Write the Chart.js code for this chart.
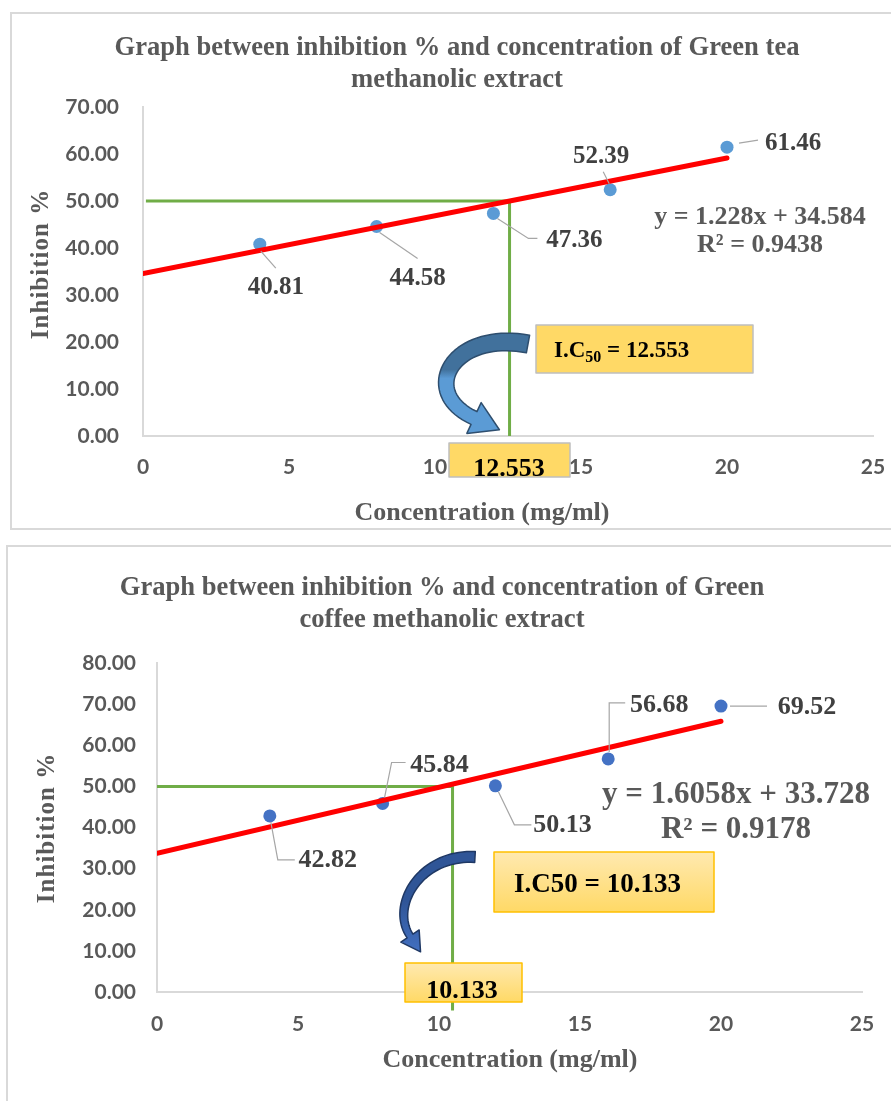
<!DOCTYPE html>
<html>
<head>
<meta charset="utf-8">
<script src="https://cdn.jsdelivr.net/npm/chart.js@4.4.1/dist/chart.umd.min.js"></script>
<style>
    html, body { margin: 0; padding: 0; background: #fff; width: 891px; height: 1101px; overflow: hidden; }
    .frame { position: absolute; border: 2px solid #d9d9d9; box-sizing: border-box; }
    #f1 { left: 10px; top: 12px; width: 920px; height: 518px; }
    #f2 { left: 6px; top: 545px; width: 920px; height: 600px; }
    canvas { position: absolute; }
    #c1 { left: 0; top: 0; }
    #c2 { left: 0; top: 546px; }
</style>
</head>
<body>
<div class="frame" id="f1"></div>
<div class="frame" id="f2"></div>
<canvas id="c1" width="910" height="530"></canvas>
<canvas id="c2" width="885" height="555"></canvas>
<script>
// values
const concentration = [4, 8, 12, 16, 20];
const teaInhibition = [40.81, 44.58, 47.36, 52.39, 61.46];
const coffeeInhibition = [42.82, 45.84, 50.13, 56.68, 69.52];

const xTickValues = [0, 5, 10, 15, 20, 25];
const teaYTicks = [0, 10, 20, 30, 40, 50, 60, 70];
const coffeeYTicks = [0, 10, 20, 30, 40, 50, 60, 70, 80];

// linear trendlines (ends of the red lines)
const trendX = [0, 20];
const teaTrend = [34.58, 59.14];
const coffeeTrend = [33.73, 65.84];

// green IC50 guide lines
const teaGuideX = [0.1, 12.553, 12.553];
const teaGuideY = [50, 50, 0];
const coffeeGuideX = [0, 10.48, 10.48];
const coffeeGuideY = [50, 50, -4.5];

const teaTitle = ['Graph between inhibition % and concentration of Green tea', 'methanolic extract'];
const coffeeTitle = ['Graph between inhibition % and concentration of Green', 'coffee methanolic extract'];
const teaEquation = ['y = 1.228x + 34.584', 'R² = 0.9438'];
const coffeeEquation = ['y = 1.6058x + 33.728', 'R² = 0.9178'];
const teaIC50 = '12.553';
const coffeeIC50 = '10.133';

const SERIF = '"Liberation Serif", "Times New Roman", serif';
const SANS = 'Lato, "Open Sans", sans-serif';
const GREY = '#595959';

const teaLayout = {
    canvas: 'c1',
    pad: { left: 41, right: 37, top: 0, bottom: 44 },
    yWidth: 102, xHeight: 50, titlePad: { top: 32, bottom: 11 }, yPad: 24, xPad: 19,
    titleSize: 26.6,
    pointColor: '#5B9BD5',
    yTitle: { x: 42, y: 264 }, xTitle: { x: 482, y: 513 }, axisTitleSize: 26,
    labelFont: 25,
    labels: [
        { dx: 16, dy: 43, leader: [[1, 7], [16, 24]] },
        { dx: 41, dy: 52, leader: [[3, 6], [41, 32]] },
        { dx: 81, dy: 27, leader: [[4, 5], [35, 25], [44, 25]] },
        { dx: -9, dy: -33, leader: [[-7, -18], [-1, -6]] },
        { dx: 66, dy: -4, leader: [[12, -4], [31, -7]] },
    ],
    eq: { x: 760, y: [217, 245], size: 26 },
    icBox: { x: 536, y: 325, w: 217, h: 48, fill: ['#FFD966', '#FFD966'], stroke: '#BFBFBF', tx: 554, ty: 357, size: 23, sub: true },
    valBox: { x: 449, y: 443, w: 121, h: 34, fill: ['#FFD966', '#FFD966'], stroke: '#BFBFBF', tx: 509, ty: 476, size: 26 },
    arrow: { p: [[528, 344], [452, 330], [418, 392], [474, 418]], w0: 18, w1: 14, headW: 34, headL: 28,
        stops: [[0, '#41719C'], [0.36, '#41719C'], [0.44, '#5B9BD5'], [1, '#5B9BD5']], edge: '#2E4E6E', y0: 330, y1: 440 },
};

const coffeeLayout = {
    canvas: 'c2',
    pad: { left: 22, right: 23, top: 0, bottom: 59 },
    yWidth: 135, xHeight: 50, titlePad: { top: 26, bottom: 27 }, yPad: 21, xPad: 20,
    titleSize: 26.6,
    pointColor: '#4472C4',
    yTitle: { x: 48, y: 282 }, xTitle: { x: 510, y: 514 }, axisTitleSize: 26,
    labelFont: 26,
    labels: [
        { dx: 58, dy: 44, leader: [[1, 6], [8, 44], [25, 44]] },
        { dx: 57, dy: -38, leader: [[2, -6], [9, -41], [23, -41]] },
        { dx: 67, dy: 39, leader: [[3, 6], [19, 39], [36, 39]] },
        { dx: 51, dy: -54, leader: [[1, -7], [1, -56], [17, -56]] },
        { dx: 86, dy: 1, leader: [[9, 0], [46, 0]] },
    ],
    eq: { x: 736, y: [249, 284], size: 31 },
    icBox: { x: 494, y: 306, w: 220, h: 60, fill: ['#FFE9B0', '#FFD966'], stroke: '#FFC000', tx: 514, ty: 346, size: 27, sub: false },
    valBox: { x: 405, y: 417, w: 117, h: 39, fill: ['#FFE9B0', '#FFD966'], stroke: '#FFC000', tx: 462, ty: 452, size: 26 },
    arrow: { p: [[475, 311], [420, 308], [390, 360], [410, 390]], w0: 11, w1: 7, headW: 22, headL: 19,
        stops: [[0, '#2F5597'], [0.5, '#2F5597'], [1, '#4472C4']], edge: '#1F3864', y0: 300, y1: 410 },
};

function bezier(p, t) {
    const m = 1 - t;
    const a = m * m * m, b = 3 * m * m * t, c = 3 * m * t * t, d = t * t * t;
    return [a * p[0][0] + b * p[1][0] + c * p[2][0] + d * p[3][0],
            a * p[0][1] + b * p[1][1] + c * p[2][1] + d * p[3][1]];
}

function tangent(p, t) {
    const m = 1 - t;
    const dx = 3 * m * m * (p[1][0] - p[0][0]) + 6 * m * t * (p[2][0] - p[1][0]) + 3 * t * t * (p[3][0] - p[2][0]);
    const dy = 3 * m * m * (p[1][1] - p[0][1]) + 6 * m * t * (p[2][1] - p[1][1]) + 3 * t * t * (p[3][1] - p[2][1]);
    const len = Math.hypot(dx, dy) || 1;
    return [dx / len, dy / len];
}

function drawArrow(c, a) {
    const n = 40, left = [], right = [];
    for (let i = 0; i <= n; i++) {
        const t = i / n;
        const [x, y] = bezier(a.p, t);
        const [tx, ty] = tangent(a.p, t);
        const w = (a.w0 + (a.w1 - a.w0) * t) / 2;
        left.push([x - ty * w, y + tx * w]);
        right.push([x + ty * w, y - tx * w]);
    }
    const [ex, ey] = bezier(a.p, 1);
    const [dx, dy] = tangent(a.p, 1);
    const h = a.headW / 2;
    c.beginPath();
    left.forEach(([x, y], i) => (i ? c.lineTo(x, y) : c.moveTo(x, y)));
    c.lineTo(ex - dy * h, ey + dx * h);
    c.lineTo(ex + dx * a.headL, ey + dy * a.headL);
    c.lineTo(ex + dy * h, ey - dx * h);
    for (let i = right.length - 1; i >= 0; i--) c.lineTo(right[i][0], right[i][1]);
    c.closePath();
    const g = c.createLinearGradient(0, a.y0, 0, a.y1);
    a.stops.forEach(([o, col]) => g.addColorStop(o, col));
    c.fillStyle = g;
    c.fill();
    c.strokeStyle = a.edge;
    c.lineWidth = 1.5;
    c.lineJoin = 'round';
    c.stroke();
}

function drawBox(c, b) {
    const g = c.createLinearGradient(0, b.y, 0, b.y + b.h);
    g.addColorStop(0, b.fill[0]);
    g.addColorStop(1, b.fill[1]);
    c.fillStyle = g;
    c.fillRect(b.x, b.y, b.w, b.h);
    c.strokeStyle = b.stroke;
    c.lineWidth = 1.5;
    c.strokeRect(b.x, b.y, b.w, b.h);
}

function notesPlugin(L, ys, eq, icValue) {
    return {
        id: 'notes',
        afterDatasetsDraw(chart) {
            const c = chart.ctx;
            c.save();

            // point labels with leader lines
            const pts = chart.getDatasetMeta(1).data;
            c.font = `bold ${L.labelFont}px ${SERIF}`;
            c.textAlign = 'center';
            c.textBaseline = 'middle';
            L.labels.forEach((lb, i) => {
                const p = pts[i];
                c.strokeStyle = '#A6A6A6';
                c.lineWidth = 1.2;
                c.beginPath();
                lb.leader.forEach(([dx, dy], k) => (k ? c.lineTo(p.x + dx, p.y + dy) : c.moveTo(p.x + dx, p.y + dy)));
                c.stroke();
                c.fillStyle = '#404040';
                c.fillText(ys[i].toFixed(2), p.x + lb.dx, p.y + lb.dy);
            });

            // trendline equation
            c.fillStyle = GREY;
            c.font = `bold ${L.eq.size}px ${SERIF}`;
            eq.forEach((line, i) => c.fillText(line, L.eq.x, L.eq.y[i]));

            // axis titles
            c.font = `bold ${L.axisTitleSize}px ${SERIF}`;
            c.fillText('Concentration (mg/ml)', L.xTitle.x, L.xTitle.y);
            c.save();
            c.translate(L.yTitle.x, L.yTitle.y);
            c.rotate(-Math.PI / 2);
            c.font = `bold 25px ${SERIF}`;
            c.letterSpacing = '1px';
            c.fillText('Inhibition %', 0, 0);
            c.restore();

            // arrow and IC50 call-outs
            drawArrow(c, L.arrow);
            drawBox(c, L.icBox);
            drawBox(c, L.valBox);

            c.fillStyle = '#000';
            c.textBaseline = 'alphabetic';
            const ib = L.icBox;
            c.textAlign = 'left';
            if (ib.sub) {
                let x = ib.tx;
                c.font = `bold ${ib.size}px ${SERIF}`;
                c.fillText('I.C', x, ib.ty);
                x += c.measureText('I.C').width;
                c.font = `bold ${Math.round(ib.size * 0.68)}px ${SERIF}`;
                c.fillText('50', x, ib.ty + 5);
                x += c.measureText('50').width;
                c.font = `bold ${ib.size}px ${SERIF}`;
                c.fillText(' = ' + icValue, x, ib.ty);
            } else {
                c.font = `bold ${ib.size}px ${SERIF}`;
                c.fillText('I.C50 = ' + icValue, ib.tx, ib.ty);
            }
            const vb = L.valBox;
            c.textAlign = 'center';
            c.font = `bold ${vb.size}px ${SERIF}`;
            c.fillText(icValue, vb.tx, vb.ty);

            c.restore();
        },
    };
}

function buildChart(L, ys, trendY, guideX, guideY, yTicks, title, eq, icValue) {
    const tickFont = { family: SANS, size: 21, weight: 'bold' };
    return new Chart(document.getElementById(L.canvas), {
        type: 'scatter',
        data: {
            datasets: [
                {
                    type: 'line',
                    data: trendX.map((x, i) => ({ x, y: trendY[i] })),
                    borderColor: '#FF0000', borderWidth: 5, borderCapStyle: 'round',
                    pointRadius: 0, order: 0,
                },
                {
                    data: concentration.map((x, i) => ({ x, y: ys[i] })),
                    backgroundColor: L.pointColor, borderWidth: 0, pointRadius: 6.5, order: 1,
                },
                {
                    type: 'line',
                    data: guideX.map((x, i) => ({ x, y: guideY[i] })),
                    borderColor: '#70AD47', borderWidth: 3, pointRadius: 0, order: 2, clip: false,
                },
            ],
        },
        options: {
            responsive: false,
            animation: false,
            events: [],
            layout: { padding: L.pad },
            plugins: {
                legend: { display: false },
                tooltip: { enabled: false },
                title: {
                    display: true, text: title, color: GREY,
                    font: { family: SERIF, size: L.titleSize, weight: 'bold', lineHeight: '32px' },
                    padding: L.titlePad,
                },
            },
            scales: {
                x: {
                    type: 'linear', min: 0, max: 25,
                    afterBuildTicks: (s) => { s.ticks = xTickValues.map((v) => ({ value: v })); },
                    afterFit: (s) => {
                        s.height = L.xHeight;
                        // the layout padding already leaves room for the end labels
                        s.paddingLeft = 0;
                        s.paddingRight = 0;
                    },
                    grid: { display: true, drawOnChartArea: false, drawTicks: false },
                    border: { color: '#D9D9D9', width: 2 },
                    ticks: { color: GREY, font: tickFont, padding: L.xPad },
                },
                y: {
                    type: 'linear', min: 0, max: yTicks[yTicks.length - 1],
                    afterBuildTicks: (s) => { s.ticks = yTicks.map((v) => ({ value: v })); },
                    afterFit: (s) => { s.width = L.yWidth; },
                    grid: { display: true, drawOnChartArea: false, drawTicks: false },
                    border: { color: '#D9D9D9', width: 2 },
                    ticks: { color: GREY, font: tickFont, padding: L.yPad, callback: (v) => Number(v).toFixed(2) },
                },
            },
        },
        plugins: [notesPlugin(L, ys, eq, icValue)],
    });
}

buildChart(teaLayout, teaInhibition, teaTrend, teaGuideX, teaGuideY, teaYTicks, teaTitle, teaEquation, teaIC50);
buildChart(coffeeLayout, coffeeInhibition, coffeeTrend, coffeeGuideX, coffeeGuideY, coffeeYTicks, coffeeTitle, coffeeEquation, coffeeIC50);
</script>
</body>
</html>
